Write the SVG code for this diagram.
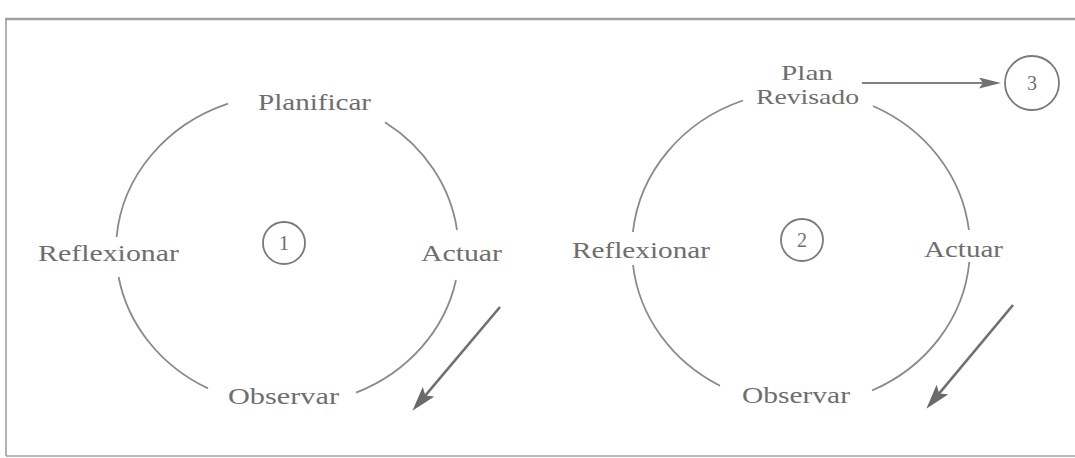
<svg xmlns="http://www.w3.org/2000/svg" width="1075" height="458" viewBox="0 0 1075 458">
  <style>
    .arc { fill: none; stroke: #8a8a8a; stroke-width: 1.8; }
    .lbl { font-family: "Liberation Serif", "Times New Roman", serif; font-size: 24px; fill: #6e6e6e; }
    .lbl2 { font-family: "Liberation Serif", "Times New Roman", serif; font-size: 22px; fill: #6e6e6e; }
    .num { font-family: "Liberation Serif", "Times New Roman", serif; font-size: 20px; fill: #6e6e6e; text-anchor: middle; }
    .ring { fill: none; stroke: #7a7a7a; stroke-width: 1.8; }
    .frame { stroke: #a0a0a0; fill: none; }
    .arrow { stroke: #707070; stroke-width: 2.6; fill: none; }
    .thin { stroke: #808080; stroke-width: 2; fill: none; }
  </style>
  <defs>
    <marker id="bigHead" markerUnits="userSpaceOnUse" markerWidth="26" markerHeight="16" refX="14" refY="7.5" orient="auto">
      <path d="M0,0 L25,7.5 L0,15 L5,7.5 z" fill="#6a6a6a"/>
    </marker>
    <marker id="smallHead" markerUnits="userSpaceOnUse" markerWidth="24" markerHeight="12" refX="12" refY="5.5" orient="auto">
      <path d="M0,0 L22,5.5 L0,11 L4,5.5 z" fill="#707070"/>
    </marker>
  </defs>

  <rect x="0" y="0" width="1075" height="458" fill="#ffffff"/>

  <g id="frame">
    <line class="frame" x1="5" y1="19" x2="1075" y2="19" stroke-width="2.4" stroke="#9a9a9a"/>
    <line class="frame" x1="6" y1="19" x2="6" y2="456" stroke-width="1.6"/>
    <line class="frame" x1="6" y1="456" x2="1075" y2="456" stroke-width="1.4" stroke="#c0c0c0"/>
  </g>

  <g id="cycle1">
    <g id="cycle1-ring">
      <path class="arc" d="M228,103.6 A171,156 0 0 0 116.6,237"/>
      <path class="arc" d="M118.6,277 A171,156 0 0 0 208,388.4"/>
      <path class="arc" d="M356,392.7 A171,156 0 0 0 456,280"/>
      <path class="arc" d="M457,230 A171,156 0 0 0 385,122.2"/>
    </g>
    <g id="c1-planificar"><text class="lbl" x="258" y="110" textLength="113" lengthAdjust="spacingAndGlyphs">Planificar</text></g>
    <g id="c1-actuar"><text class="lbl" x="421" y="261" textLength="81" lengthAdjust="spacingAndGlyphs">Actuar</text></g>
    <g id="c1-observar"><text class="lbl" x="228" y="404" textLength="111" lengthAdjust="spacingAndGlyphs">Observar</text></g>
    <g id="c1-reflexionar"><text class="lbl" x="38" y="261" textLength="141" lengthAdjust="spacingAndGlyphs">Reflexionar</text></g>
    <g id="c1-number">
      <circle class="ring" cx="284" cy="243" r="21"/>
      <text class="num" x="284" y="250">1</text>
    </g>
  </g>

  <g id="cycle2">
    <g id="cycle2-ring">
      <path class="arc" d="M743,100.5 A169,157 0 0 0 632.9,232"/>
      <path class="arc" d="M633,265 A169,157 0 0 0 720,385.8"/>
      <path class="arc" d="M872,390.5 A169,157 0 0 0 969.3,262"/>
      <path class="arc" d="M968.9,230 A169,157 0 0 0 873,106"/>
    </g>
    <g id="c2-plan">
      <text class="lbl2" x="781" y="80" textLength="52" lengthAdjust="spacingAndGlyphs">Plan</text>
      <text class="lbl2" x="756" y="104" textLength="103" lengthAdjust="spacingAndGlyphs">Revisado</text>
    </g>
    <g id="c2-actuar"><text class="lbl" x="924" y="257" textLength="79" lengthAdjust="spacingAndGlyphs">Actuar</text></g>
    <g id="c2-observar"><text class="lbl" x="742" y="403" textLength="108" lengthAdjust="spacingAndGlyphs">Observar</text></g>
    <g id="c2-reflexionar"><text class="lbl" x="572" y="258" textLength="138" lengthAdjust="spacingAndGlyphs">Reflexionar</text></g>
    <g id="c2-number">
      <circle class="ring" cx="802" cy="240" r="21"/>
      <text class="num" x="802" y="247">2</text>
    </g>
  </g>

  <g id="node3">
    <circle class="ring" cx="1032" cy="83" r="27"/>
    <text class="num" x="1032" y="90">3</text>
  </g>

  <g id="connectors">
    <line class="thin" x1="862" y1="83" x2="991" y2="83" marker-end="url(#smallHead)"/>
    <line class="arrow" x1="500" y1="307" x2="419.5" y2="402.4" marker-end="url(#bigHead)"/>
    <line class="arrow" x1="1013" y1="305" x2="933.4" y2="400.3" marker-end="url(#bigHead)"/>
  </g>
</svg>
